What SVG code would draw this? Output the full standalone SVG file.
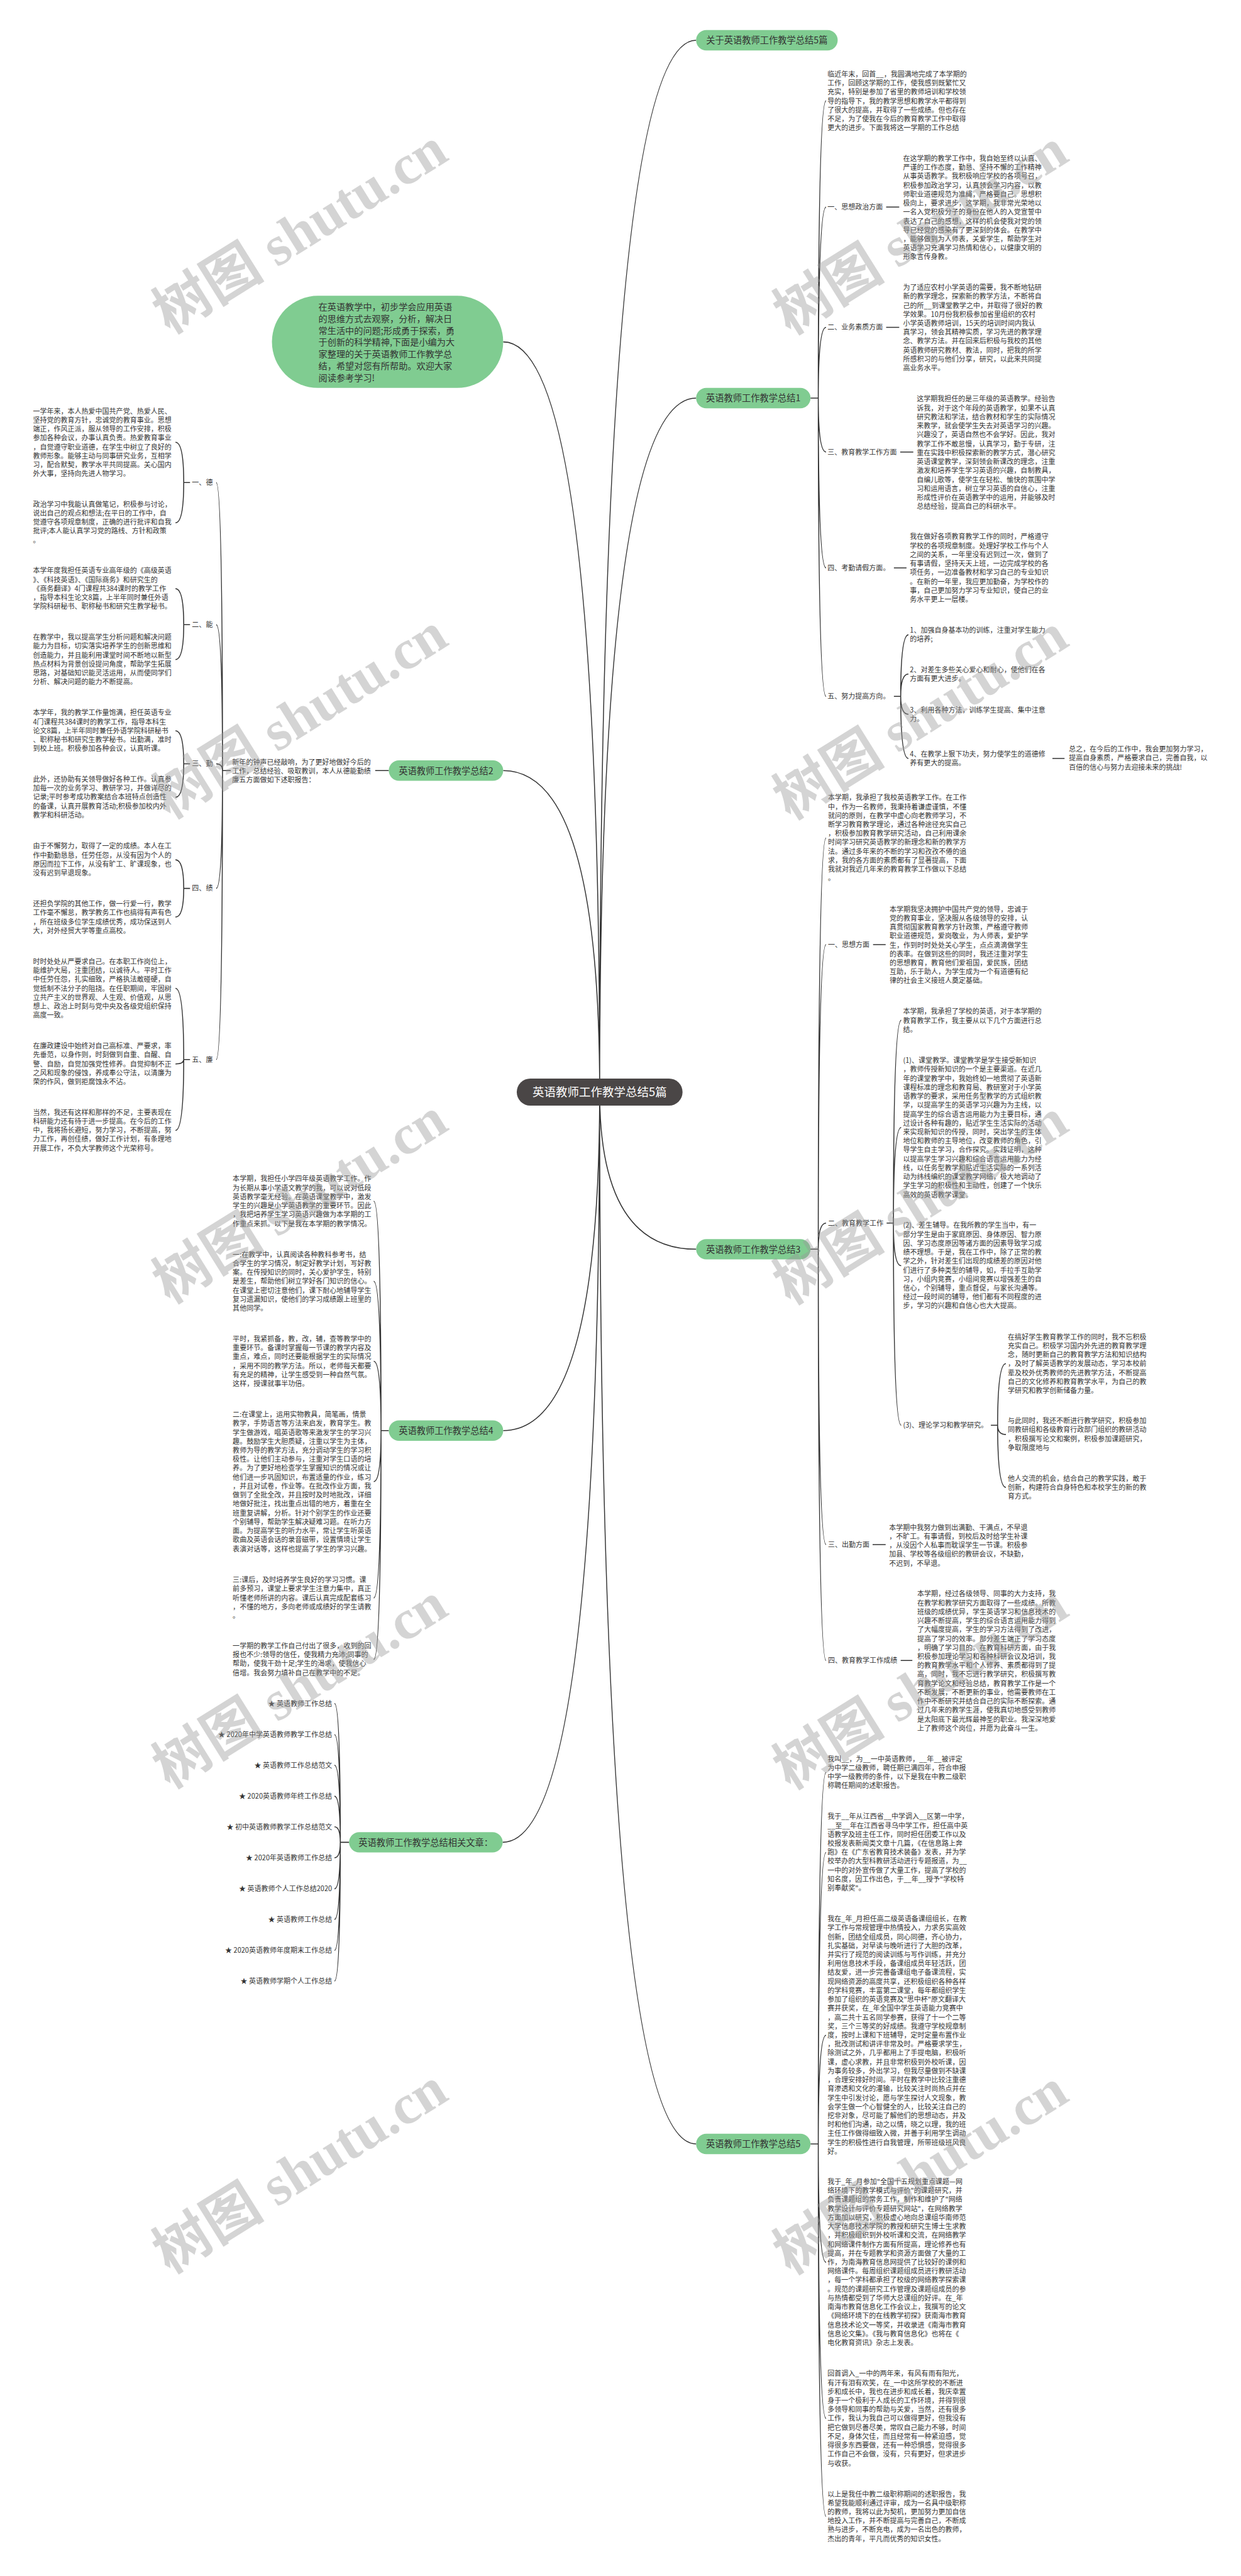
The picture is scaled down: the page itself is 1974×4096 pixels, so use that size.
<svg xmlns="http://www.w3.org/2000/svg" width="1974" height="4096" viewBox="0 0 1974 4096">
<style>
.t{font-family:"Noto Sans CJK SC","Noto Sans",sans-serif;font-size:14.3px;fill:#333}
.n{font-size:18.5px;text-anchor:middle}
.c{font-size:24px;fill:#fff;text-anchor:middle}
.e{text-anchor:end}
.g{fill:#80cc91}
.l{fill:none;stroke:#333;stroke-width:2}
.w{font-family:"Liberation Serif","Noto Sans CJK SC",serif;font-weight:bold;font-size:116px;fill:#9a9a9a;opacity:0.42}
</style>
<rect width="1974" height="4096" fill="#fff"/>
<g transform="scale(0.77109)">
<g id="connectors" class="l">
<path d="M1436,83Q1237,83 1237,2252M1436,821Q1237,821 1237,2252M1038,705Q1237,705 1237,2252M1038,1589Q1237,1589 1237,2252M1436,2576Q1237,2576 1237,2252M1038,2950Q1237,2950 1237,2252M1037,3799Q1237,3799 1237,2252M1436,4421Q1237,4421 1237,2252"/>
<path d="M1672,821H1688M1688,821Q1688,208 1704,208M1688,821Q1688,427 1704,427M1688,821Q1688,675 1704,675M1688,821Q1688,932 1704,932M1688,821Q1688,1171 1704,1171M1688,821Q1688,1436 1704,1436M1828,427H1855M1828,675H1855M1857,932H1884M1844,1171H1870M1844,1436H1858M1858,1436Q1858,1309 1874,1309M1858,1436Q1858,1390 1874,1390M1858,1436Q1858,1473 1874,1473M1858,1436Q1858,1564 1874,1564M2171,1564H2196"/>
<path d="M1671,2576H1688M1688,2576Q1688,1728 1704,1728M1688,2576Q1688,1948 1704,1948M1688,2576Q1688,2522 1704,2522M1688,2576Q1688,3185 1704,3185M1688,2576Q1688,3424 1704,3424M1801,1948H1827M1829,2522H1843M1843,2522Q1843,2104 1859,2104M1843,2522Q1843,2325 1859,2325M1843,2522Q1843,2610 1859,2610M1843,2522Q1843,2939 1859,2939M2044,2939H2058M2058,2939Q2058,2812 2075,2812M2058,2939Q2058,2958 2075,2958M2058,2939Q2058,3067 2075,3067M1800,3185H1827M1858,3424H1882"/>
<path d="M1672,4421H1688M1688,4421Q1688,3655 1704,3655M1688,4421Q1688,3820 1704,3820M1688,4421Q1688,4197 1704,4197M1688,4421Q1688,4665 1704,4665M1688,4421Q1688,4987 1704,4987M1688,4421Q1688,5189 1704,5189"/>
<path d="M802,1589H774M476,1589H459M459,1589Q459,995 446,995M459,1589Q459,1288 446,1288M459,1589Q459,1575 446,1575M459,1589Q459,1832 446,1832M459,1589Q459,2185 446,2185M392,995H379M379,995Q379,912 362,912M379,995Q379,1078 362,1078M392,1288H379M379,1288Q379,1214 362,1214M379,1288Q379,1360 362,1360M392,1575H379M379,1575Q379,1507 362,1507M379,1575Q379,1644 362,1644M392,1832H379M379,1832Q379,1773 362,1773M379,1832Q379,1891 362,1891M392,2185H379M379,2185Q379,2038 362,2038M379,2185Q379,2194 362,2194M379,2185Q379,2331 362,2331"/>
<path d="M802,2950H786M786,2950Q786,2477 771,2477M786,2950Q786,2642 771,2642M786,2950Q786,2807 771,2807M786,2950Q786,3055 771,3055M786,2950Q786,3295 771,3295M786,2950Q786,3422 771,3422"/>
<path d="M720,3799H702M702,3799Q702,3513 690,3513M702,3799Q702,3577 690,3577M702,3799Q702,3640 690,3640M702,3799Q702,3704 690,3704M702,3799Q702,3767 690,3767M702,3799Q702,3831 690,3831M702,3799Q702,3895 690,3895M702,3799Q702,3958 690,3958M702,3799Q702,4022 690,4022M702,3799Q702,4085 690,4085"/>
</g>
<g id="center"><rect x="1066" y="2224" width="342" height="56" rx="28" fill="#4a4646"/><text class="t c" x="1237" y="2261">英语教师工作教学总结5篇</text></g>
<g id="note"><rect class="g" x="561" y="610" width="477" height="190" rx="95"/>
<text class="t" style="font-size:18.4px" y="639"><tspan x="657">在英语教学中，初步学会应用英语</tspan><tspan x="657" dy="24.5">的思维方式去观察，分析，解决日</tspan><tspan x="657" dy="24.5">常生活中的问题;形成勇于探索，勇</tspan><tspan x="657" dy="24.5">于创新的科学精神,下面是小编为大</tspan><tspan x="657" dy="24.5">家整理的关于英语教师工作教学总</tspan><tspan x="657" dy="24.5">结，希望对您有所帮助。欢迎大家</tspan><tspan x="657" dy="24.5">阅读参考学习!</tspan></text></g>
<g id="n0"><rect class="g" x="1436" y="62" width="292" height="42" rx="21"/><text class="t n" x="1582" y="90">关于英语教师工作教学总结5篇</text></g>
<g id="n1"><rect class="g" x="1436" y="800" width="236" height="42" rx="21"/><text class="t n" x="1554" y="828">英语教师工作教学总结1</text>
<text class="t" y="158"><tspan x="1707">临近年末，回首__，我圆满地完成了本学期的</tspan><tspan x="1707" dy="18.45">工作，回顾这学期的工作，使我感到既繁忙又</tspan><tspan x="1707" dy="18.45">充实，特别是参加了省里的教师培训和学校领</tspan><tspan x="1707" dy="18.45">导的指导下，我的教学思想和教学水平都得到</tspan><tspan x="1707" dy="18.45">了很大的提高，并取得了一些成绩。但也存在</tspan><tspan x="1707" dy="18.45">不足，为了使我在今后的教育教学工作中取得</tspan><tspan x="1707" dy="18.45">更大的进步。下面我将这一学期的工作总结</tspan></text>
<text class="t" x="1707" y="432">一、思想政治方面</text>
<text class="t" y="332"><tspan x="1863">在这学期的教学工作中，我自始至终以认真、</tspan><tspan x="1863" dy="18.45">严谨的工作态度，勤恳、坚持不懈的工作精神</tspan><tspan x="1863" dy="18.45">从事英语教学。我积极响应学校的各项号召，</tspan><tspan x="1863" dy="18.45">积极参加政治学习，认真领会学习内容，以教</tspan><tspan x="1863" dy="18.45">师职业道德规范为准绳，严格要自己。思想积</tspan><tspan x="1863" dy="18.45">极向上，要求进步，这学期，我非常光荣地以</tspan><tspan x="1863" dy="18.45">一名入党积极分子的身份在他人的入党宣誓中</tspan><tspan x="1863" dy="18.45">表达了自己的感想，这样的机会使我对党的领</tspan><tspan x="1863" dy="18.45">导已经党的感染有了更深刻的体会。在教学中</tspan><tspan x="1863" dy="18.45">，能够做到为人师表，关爱学生，帮助学生对</tspan><tspan x="1863" dy="18.45">英语学习充满学习热情和信心，以健康文明的</tspan><tspan x="1863" dy="18.45">形象言传身教。</tspan></text>
<text class="t" x="1707" y="680">二、业务素质方面</text>
<text class="t" y="598"><tspan x="1863">为了适应农村小学英语的需要，我不断地钻研</tspan><tspan x="1863" dy="18.45">新的教学理念，探索新的教学方法，不断将自</tspan><tspan x="1863" dy="18.45">己的所__到课堂教学之中，并取得了很好的教</tspan><tspan x="1863" dy="18.45">学效果。10月份我积极参加省里组织的农村</tspan><tspan x="1863" dy="18.45">小学英语教师培训，15天的培训时间内我认</tspan><tspan x="1863" dy="18.45">真学习，领会其精神实质，学习先进的教学理</tspan><tspan x="1863" dy="18.45">念、教学方法。并在回来后积极与我校的其他</tspan><tspan x="1863" dy="18.45">英语教师研究教材、教法，同时，把我的所学</tspan><tspan x="1863" dy="18.45">所感积习的与他们分享，研究，以此来共同提</tspan><tspan x="1863" dy="18.45">高业务水平。</tspan></text>
<text class="t" x="1707" y="937">三、教育教学工作方面</text>
<text class="t" y="828"><tspan x="1891">这学期我担任的是三年级的英语教学。经验告</tspan><tspan x="1891" dy="18.45">诉我，对于这个年段的英语教学，如果不认真</tspan><tspan x="1891" dy="18.45">研究教法和学法，结合教材和学生的实际情况</tspan><tspan x="1891" dy="18.45">来教学，就会使学生失去对英语学习的兴趣。</tspan><tspan x="1891" dy="18.45">兴趣没了，英语自然也不会学好。因此，我对</tspan><tspan x="1891" dy="18.45">教学工作不敢怠慢，认真学习，勤于专研，注</tspan><tspan x="1891" dy="18.45">重在实践中积极探索新的教学方式，潜心研究</tspan><tspan x="1891" dy="18.45">英语课堂教学，深刻领会新课改的理念，注重</tspan><tspan x="1891" dy="18.45">激发和培养学生学习英语的兴趣，自制教具，</tspan><tspan x="1891" dy="18.45">自编儿歌等，使学生在轻松、愉快的氛围中学</tspan><tspan x="1891" dy="18.45">习和运用语言，树立学习英语的自信心，注重</tspan><tspan x="1891" dy="18.45">形成性评价在英语教学中的运用，并能够及时</tspan><tspan x="1891" dy="18.45">总结经验，提高自己的科研水平。</tspan></text>
<text class="t" x="1707" y="1176">四、考勤请假方面。</text>
<text class="t" y="1112"><tspan x="1877">我在做好各项教育教学工作的同时，严格遵守</tspan><tspan x="1877" dy="18.45">学校的各项规章制度。处理好学校工作与个人</tspan><tspan x="1877" dy="18.45">之间的关系，一年里没有迟到过一次，做到了</tspan><tspan x="1877" dy="18.45">有事请假，坚持天天上班，一边完成学校的各</tspan><tspan x="1877" dy="18.45">项任务，一边准备教材和学习自己的专业知识</tspan><tspan x="1877" dy="18.45">。在新的一年里，我应更加勤奋，为学校作的</tspan><tspan x="1877" dy="18.45">事，自己更加努力学习专业知识，使自己的业</tspan><tspan x="1877" dy="18.45">务水平更上一层楼。</tspan></text>
<text class="t" x="1707" y="1441">五、努力提高方向。</text>
<text class="t" y="1305"><tspan x="1877">1、加强自身基本功的训练，注重对学生能力</tspan><tspan x="1877" dy="18.45">的培养;</tspan></text>
<text class="t" y="1386"><tspan x="1877">2、对差生多些关心爱心和耐心，使他们在各</tspan><tspan x="1877" dy="18.45">方面有更大进步。</tspan></text>
<text class="t" y="1469"><tspan x="1877">3、利用各种方法，训练学生提高、集中注意</tspan><tspan x="1877" dy="18.45">力。</tspan></text>
<text class="t" y="1560"><tspan x="1877">4、在教学上狠下功夫，努力使学生的道德修</tspan><tspan x="1877" dy="18.45">养有更大的提高。</tspan></text>
<text class="t" y="1550"><tspan x="2205">总之，在今后的工作中，我会更加努力学习，</tspan><tspan x="2205" dy="18.45">提高自身素质，严格要求自己，完善自我，以</tspan><tspan x="2205" dy="18.45">百倍的信心与努力去迎接未来的挑战!</tspan></text>
</g>
<g id="n3"><rect class="g" x="1436" y="2555" width="236" height="42" rx="21"/><text class="t n" x="1554" y="2583">英语教师工作教学总结3</text>
<text class="t" y="1650"><tspan x="1708">本学期，我承担了我校英语教学工作。在工作</tspan><tspan x="1708" dy="18.45">中，作为一名教师，我秉持着谦虚谨慎，不懂</tspan><tspan x="1708" dy="18.45">就问的原则，在教学中虚心向老教师学习，不</tspan><tspan x="1708" dy="18.45">断学习教育教学理论，通过各种途径充实自己</tspan><tspan x="1708" dy="18.45">，积极参加教育教学研究活动，自己利用课余</tspan><tspan x="1708" dy="18.45">时间学习研究英语教学的新理念和新的教学方</tspan><tspan x="1708" dy="18.45">法。通过多年来的不断的学习和孜孜不倦的追</tspan><tspan x="1708" dy="18.45">求，我的各方面的素质都有了显著提高，下面</tspan><tspan x="1708" dy="18.45">我就对我近几年来的教育教学工作做以下总结</tspan><tspan x="1708" dy="18.45">。</tspan></text>
<text class="t" x="1708" y="1953">一、思想方面</text>
<text class="t" y="1880"><tspan x="1835">本学期我坚决拥护中国共产党的领导，忠诚于</tspan><tspan x="1835" dy="18.45">党的教育事业，坚决服从各级领导的安排，认</tspan><tspan x="1835" dy="18.45">真贯彻国家教育教学方针政策，严格遵守教师</tspan><tspan x="1835" dy="18.45">职业道德规范，爱岗敬业，为人师表，爱护学</tspan><tspan x="1835" dy="18.45">生，作到时时处处关心学生，点点滴滴做学生</tspan><tspan x="1835" dy="18.45">的表率。在做到这些的同时，我还注重对学生</tspan><tspan x="1835" dy="18.45">的思想教育，教育他们爱祖国，爱民族，团结</tspan><tspan x="1835" dy="18.45">互助，乐于助人，为学生成为一个有道德有纪</tspan><tspan x="1835" dy="18.45">律的社会主义接班人奠定基础。</tspan></text>
<text class="t" x="1708" y="2527">二、教育教学工作</text>
<text class="t" y="2091"><tspan x="1863">本学期，我承担了学校的英语，对于本学期的</tspan><tspan x="1863" dy="18.45">教育教学工作，我主要从以下几个方面进行总</tspan><tspan x="1863" dy="18.45">结。</tspan></text>
<text class="t" y="2192"><tspan x="1863">(1)、课堂教学。课堂教学是学生接受新知识</tspan><tspan x="1863" dy="18.45">，教师传授新知识的一个是主要渠道。在近几</tspan><tspan x="1863" dy="18.45">年的课堂教学中，我始终如一地贯彻了英语新</tspan><tspan x="1863" dy="18.45">课程标准的理念和教育局、教研室对于小学英</tspan><tspan x="1863" dy="18.45">语教学的要求，采用任务型教学的方式组织教</tspan><tspan x="1863" dy="18.45">学，以提高学生的英语学习兴趣为为主线，以</tspan><tspan x="1863" dy="18.45">提高学生的综合语言运用能力为主要目标，通</tspan><tspan x="1863" dy="18.45">过设计各种有趣的，贴近学生生活实际的活动</tspan><tspan x="1863" dy="18.45">来实现新知识的传授，同时，突出学生的主体</tspan><tspan x="1863" dy="18.45">地位和教师的主导地位，改变教师的角色，引</tspan><tspan x="1863" dy="18.45">导学生自主学习，合作探究。实践证明，这种</tspan><tspan x="1863" dy="18.45">以提高学生学习兴趣和综合语言运用能力为经</tspan><tspan x="1863" dy="18.45">线，以任务型教学和贴近生活实际的一系列活</tspan><tspan x="1863" dy="18.45">动为纬线编织的课堂教学网络，极大地调动了</tspan><tspan x="1863" dy="18.45">学生学习的积极性和主动性，创建了一个快乐</tspan><tspan x="1863" dy="18.45">高效的英语教学课堂。</tspan></text>
<text class="t" y="2532"><tspan x="1863">(2)、差生辅导。在我所教的学生当中，有一</tspan><tspan x="1863" dy="18.45">部分学生是由于家庭原因、身体原因、智力原</tspan><tspan x="1863" dy="18.45">因、学习态度原因等诸方面的因素导致学习成</tspan><tspan x="1863" dy="18.45">绩不理想。于是，我在工作中，除了正常的教</tspan><tspan x="1863" dy="18.45">学之外，针对差生们出现的成绩差的原因对他</tspan><tspan x="1863" dy="18.45">们进行了多种类型的辅导，如，手拉手互助学</tspan><tspan x="1863" dy="18.45">习，小组内竞赛，小组间竞赛以增强差生的自</tspan><tspan x="1863" dy="18.45">信心，个别辅导，重点督促，与家长沟通等。</tspan><tspan x="1863" dy="18.45">经过一段时间的辅导，他们都有不同程度的进</tspan><tspan x="1863" dy="18.45">步，学习的兴趣和自信心也大大提高。</tspan></text>
<text class="t" x="1863" y="2944">(3)、理论学习和教学研究。</text>
<text class="t" y="2762"><tspan x="2079">在搞好学生教育教学工作的同时，我不忘积极</tspan><tspan x="2079" dy="18.45">充实自己。积极学习国内外先进的教育教学理</tspan><tspan x="2079" dy="18.45">念，随时更新自己的教育教学方法和知识结构</tspan><tspan x="2079" dy="18.45">，及时了解英语教学的发展动态，学习本校前</tspan><tspan x="2079" dy="18.45">辈及校外优秀教师的先进教学方法，不断提高</tspan><tspan x="2079" dy="18.45">自己的文化修养和教育教学水平，为自己的教</tspan><tspan x="2079" dy="18.45">学研究和教学创新储备力量。</tspan></text>
<text class="t" y="2935"><tspan x="2079">与此同时，我还不断进行教学研究，积极参加</tspan><tspan x="2079" dy="18.45">同教研组和各级教育行政部门组织的教研活动</tspan><tspan x="2079" dy="18.45">，积极撰写论文和案例，积极参加课题研究，</tspan><tspan x="2079" dy="18.45">争取限度地与</tspan></text>
<text class="t" y="3054"><tspan x="2079">他人交流的机会，结合自己的教学实践，敢于</tspan><tspan x="2079" dy="18.45">创新，构建符合自身特色和本校学生的新的教</tspan><tspan x="2079" dy="18.45">育方式。</tspan></text>
<text class="t" x="1708" y="3190">三、出勤方面</text>
<text class="t" y="3155"><tspan x="1834">本学期中我努力做到出满勤、干满点，不早退</tspan><tspan x="1834" dy="18.45">，不旷工。有事请假，到校后及时给学生补课</tspan><tspan x="1834" dy="18.45">，从没因个人私事而耽误学生一节课。积极参</tspan><tspan x="1834" dy="18.45">加县、学校等各级组织的教研会议，不缺勤，</tspan><tspan x="1834" dy="18.45">不迟到，不早退。</tspan></text>
<text class="t" x="1708" y="3429">四、教育教学工作成绩</text>
<text class="t" y="3292"><tspan x="1892">本学期，经过各级领导、同事的大力支持，我</tspan><tspan x="1892" dy="18.45">在教学和教学研究方面取得了一些成绩。所教</tspan><tspan x="1892" dy="18.45">班级的成绩优异，学生英语学习和信息技术的</tspan><tspan x="1892" dy="18.45">兴趣不断提高，学生的综合语言运用能力得到</tspan><tspan x="1892" dy="18.45">了大幅度提高，学生的学习方法得到了改进，</tspan><tspan x="1892" dy="18.45">提高了学习的效率。部分差生端正了学习态度</tspan><tspan x="1892" dy="18.45">，明确了学习目的。在教育科研方面，由于我</tspan><tspan x="1892" dy="18.45">积极参加理论学习和各种科研会议及培训，我</tspan><tspan x="1892" dy="18.45">的教育教学水平和个人修养、素质都得到了提</tspan><tspan x="1892" dy="18.45">高，同时，我不忘进行教学研究，积极撰写教</tspan><tspan x="1892" dy="18.45">育教学论文和经验总结，教育教学工作是一个</tspan><tspan x="1892" dy="18.45">不断发展，不断更新的事业，他需要教师在工</tspan><tspan x="1892" dy="18.45">作中不断研究并结合自己的实际不断探索。通</tspan><tspan x="1892" dy="18.45">过几年来的教学生涯，使我真切地感受到教师</tspan><tspan x="1892" dy="18.45">是太阳底下最光辉最神圣的职业。我深深地爱</tspan><tspan x="1892" dy="18.45">上了教师这个岗位，并愿为此奋斗一生。</tspan></text>
</g>
<g id="n5"><rect class="g" x="1436" y="4400" width="236" height="42" rx="21"/><text class="t n" x="1554" y="4428">英语教师工作教学总结5</text>
<text class="t" y="3632"><tspan x="1707">我叫__，为__一中英语教师，__年__被评定</tspan><tspan x="1707" dy="18.45">为中学二级教师，聘任期已满四年，符合申报</tspan><tspan x="1707" dy="18.45">中学一级教师的条件，以下是我在中教二级职</tspan><tspan x="1707" dy="18.45">称聘任期间的述职报告。</tspan></text>
<text class="t" y="3751"><tspan x="1707">我于__年从江西省__中学调入__区第一中学，</tspan><tspan x="1707" dy="18.45">__至__年在江西省寻乌中学工作，担任高中英</tspan><tspan x="1707" dy="18.45">语教学及班主任工作，同时担任团委工作以及</tspan><tspan x="1707" dy="18.45">校报发表新闻类文章十几篇，《在信息路上奔</tspan><tspan x="1707" dy="18.45">跑》在《广东省教育技术装备》发表，并为学</tspan><tspan x="1707" dy="18.45">校举办的大型科教研活动进行专题报道，为__</tspan><tspan x="1707" dy="18.45">一中的对外宣传做了大量工作，提高了学校的</tspan><tspan x="1707" dy="18.45">知名度，因工作出色，于__年__授予"学校特</tspan><tspan x="1707" dy="18.45">别奉献奖"。</tspan></text>
<text class="t" y="3962"><tspan x="1707">我在_年_月担任高二级英语备课组组长，在教</tspan><tspan x="1707" dy="18.45">学工作与常规管理中热情投入，力求务实高效</tspan><tspan x="1707" dy="18.45">创新，团结全组成员，同心同德，齐心协力，</tspan><tspan x="1707" dy="18.45">扎实基础，对早读与晚听进行了大胆的改革，</tspan><tspan x="1707" dy="18.45">并实行了规范的阅读训练与写作训练，并充分</tspan><tspan x="1707" dy="18.45">利用信息技术手段，备课组成员年轻活跃，团</tspan><tspan x="1707" dy="18.45">结友爱，进一步完善备课组电子备课流程，实</tspan><tspan x="1707" dy="18.45">现网络资源的高度共享，还积极组织各种各样</tspan><tspan x="1707" dy="18.45">的学科竞赛，丰富第二课堂，每年都组织学生</tspan><tspan x="1707" dy="18.45">参加了组织的英语竞赛及"思中杯"原文翻译大</tspan><tspan x="1707" dy="18.45">赛并获奖，在_年全国中学生英语能力竞赛中</tspan><tspan x="1707" dy="18.45">，高二共十五名同学参赛，获得了十一个二等</tspan><tspan x="1707" dy="18.45">奖，三个三等奖的好成绩。我遵守学校规章制</tspan><tspan x="1707" dy="18.45">度，按时上课和下班辅导，定时定量布置作业</tspan><tspan x="1707" dy="18.45">，批改测试和讲评非常及时。严格要求学生，</tspan><tspan x="1707" dy="18.45">除测试之外，几乎都用上了手提电脑，积极听</tspan><tspan x="1707" dy="18.45">课，虚心求教，并且非常积极到外校听课，因</tspan><tspan x="1707" dy="18.45">为事务较多，外出学习，但我尽量做到不缺课</tspan><tspan x="1707" dy="18.45">，合理安排好时间。平时在教学中比较注重德</tspan><tspan x="1707" dy="18.45">育渗透和文化的灌输，比较关注时尚热点并在</tspan><tspan x="1707" dy="18.45">学生中引发讨论，愿与学生探讨人文现象，教</tspan><tspan x="1707" dy="18.45">会学生做一个心智健全的人，比较关注自己的</tspan><tspan x="1707" dy="18.45">挖非对象，尽可能了解他们的思想动态，并及</tspan><tspan x="1707" dy="18.45">时和他们沟通，动之以情，晓之以理，我的班</tspan><tspan x="1707" dy="18.45">主任工作做得细致入微，并善于利用学生调动</tspan><tspan x="1707" dy="18.45">学生的积极性进行自我管理，所带班级班风良</tspan><tspan x="1707" dy="18.45">好。</tspan></text>
<text class="t" y="4504"><tspan x="1707">我于_年_月参加"全国十五规划重点课题—网</tspan><tspan x="1707" dy="18.45">络环境下的教学模式与评价"的课题研究，并</tspan><tspan x="1707" dy="18.45">负责课题组的常务工作，制作和维护了"网络</tspan><tspan x="1707" dy="18.45">教学设计与评价专题研究网站"，在网络教学</tspan><tspan x="1707" dy="18.45">方面加以研究，积极虚心地向总课组华南师范</tspan><tspan x="1707" dy="18.45">大学信息技术学院的教授和研究生博士生求教</tspan><tspan x="1707" dy="18.45">，并积极组织到外校听课和交流，在网络教学</tspan><tspan x="1707" dy="18.45">和网络课件制作方面有所提高，理论修养也有</tspan><tspan x="1707" dy="18.45">提高，并在专题教学和资源方面做了大量的工</tspan><tspan x="1707" dy="18.45">作，为南海教育信息网提供了比较好的课例和</tspan><tspan x="1707" dy="18.45">网络课件。每周组织课题组成员进行教研活动</tspan><tspan x="1707" dy="18.45">，每一个学科都承担了校级的网络教学探索课</tspan><tspan x="1707" dy="18.45">。规范的课题研究工作管理及课题组成员的参</tspan><tspan x="1707" dy="18.45">与热情都受到了华师大总课组的好评。在_年</tspan><tspan x="1707" dy="18.45">南海市教育信息化工作会议上，我撰写的论文</tspan><tspan x="1707" dy="18.45">《网络环境下的在线教学初探》获南海市教育</tspan><tspan x="1707" dy="18.45">信息技术论文一等奖，并收录进《南海市教育</tspan><tspan x="1707" dy="18.45">信息论文集》。《我与教育信息化》也将在《</tspan><tspan x="1707" dy="18.45">电化教育资讯》杂志上发表。</tspan></text>
<text class="t" y="4900"><tspan x="1707">回首调入_一中的两年来，有风有雨有阳光，</tspan><tspan x="1707" dy="18.45">有汗有泪有欢笑，在_一中这所学校的不断进</tspan><tspan x="1707" dy="18.45">步和成长中，我也在进步和成长着，我庆幸置</tspan><tspan x="1707" dy="18.45">身于一个极利于人成长的工作环境，并得到很</tspan><tspan x="1707" dy="18.45">多领导和同事的帮助与关爱，当然，还有很多</tspan><tspan x="1707" dy="18.45">工作，我认为我自己可以做得更好，但我没有</tspan><tspan x="1707" dy="18.45">把它做到尽善尽美，常叹自己能力不够，时间</tspan><tspan x="1707" dy="18.45">不足，身体欠佳，而且经常有一种紧迫感，觉</tspan><tspan x="1707" dy="18.45">得很多东西要做，还有一种恐惧感，觉得很多</tspan><tspan x="1707" dy="18.45">工作自己不会做，没有，只有更好，但求进步</tspan><tspan x="1707" dy="18.45">与收获。</tspan></text>
<text class="t" y="5148"><tspan x="1707">以上是我任中教二级职称期间的述职报告，我</tspan><tspan x="1707" dy="18.45">希望我能顺利通过评审，成为一名具中级职称</tspan><tspan x="1707" dy="18.45">的教师，我将以此为契机，更加努力更加自信</tspan><tspan x="1707" dy="18.45">地投入工作，并不断提高与完善自己，不断成</tspan><tspan x="1707" dy="18.45">熟与进步，不断充电，成为一名出色的教师，</tspan><tspan x="1707" dy="18.45">杰出的青年，平凡而优秀的知识女性。</tspan></text>
</g>
<g id="n2"><rect class="g" x="802" y="1568" width="236" height="42" rx="21"/><text class="t n" x="920" y="1596">英语教师工作教学总结2</text>
<text class="t" y="1577"><tspan x="479">新年的钟声已经敲响，为了更好地做好今后的</tspan><tspan x="479" dy="18.45">工作，总结经验、吸取教训，本人从德能勤绩</tspan><tspan x="479" dy="18.45">廉五方面做如下述职报告：</tspan></text>
<text class="t" x="396" y="1000">一、德</text>
<text class="t" x="396" y="1293">二、能</text>
<text class="t" x="396" y="1580">三、勤</text>
<text class="t" x="396" y="1837">四、绩</text>
<text class="t" x="396" y="2190">五、廉</text>
<text class="t" y="853"><tspan x="68">一学年来，本人热爱中国共产党、热爱人民、</tspan><tspan x="68" dy="18.45">坚持党的教育方针，忠诚党的教育事业。思想</tspan><tspan x="68" dy="18.45">端正，作风正派，服从领导的工作安排，积极</tspan><tspan x="68" dy="18.45">参加各种会议，办事认真负责。热爱教育事业</tspan><tspan x="68" dy="18.45">，自觉遵守职业道德，在学生中树立了良好的</tspan><tspan x="68" dy="18.45">教师形象。能够主动与同事研究业务，互相学</tspan><tspan x="68" dy="18.45">习，配合默契，教学水平共同提高。关心国内</tspan><tspan x="68" dy="18.45">外大事，坚持向先进人物学习。</tspan></text>
<text class="t" y="1045"><tspan x="68">政治学习中我能认真做笔记，积极参与讨论，</tspan><tspan x="68" dy="18.45">说出自己的观点和想法;在平日的工作中，自</tspan><tspan x="68" dy="18.45">觉遵守各项规章制度，正确的进行批评和自我</tspan><tspan x="68" dy="18.45">批评;本人能认真学习党的路线、方针和政策</tspan><tspan x="68" dy="18.45">。</tspan></text>
<text class="t" y="1182"><tspan x="68">本学年度我担任英语专业高年级的《高级英语</tspan><tspan x="68" dy="18.45">》、《科技英语》、《国际商务》和研究生的</tspan><tspan x="68" dy="18.45">《商务翻译》4门课程共384课时的教学工作</tspan><tspan x="68" dy="18.45">，指导本科生论文8篇，上半年同时兼任外语</tspan><tspan x="68" dy="18.45">学院科研秘书、职称秘书和研究生教学秘书。</tspan></text>
<text class="t" y="1319"><tspan x="68">在教学中，我以提高学生分析问题和解决问题</tspan><tspan x="68" dy="18.45">能力为目标，切实落实培养学生的创新思维和</tspan><tspan x="68" dy="18.45">创造能力，并且能利用课堂时间不断地以新型</tspan><tspan x="68" dy="18.45">热点材料为背景创设提问角度，帮助学生拓展</tspan><tspan x="68" dy="18.45">思路，对基础知识能灵活运用，从而使同学们</tspan><tspan x="68" dy="18.45">分析、解决问题的能力不断提高。</tspan></text>
<text class="t" y="1475"><tspan x="68">本学年，我的教学工作量饱满，担任英语专业</tspan><tspan x="68" dy="18.45">4门课程共384课时的教学工作，指导本科生</tspan><tspan x="68" dy="18.45">论文8篇，上半年同时兼任外语学院科研秘书</tspan><tspan x="68" dy="18.45">、职称秘书和研究生教学秘书。出勤满，准时</tspan><tspan x="68" dy="18.45">到校上班。积极参加各种会议，认真听课。</tspan></text>
<text class="t" y="1612"><tspan x="68">此外，还协助有关领导做好各种工作。认真参</tspan><tspan x="68" dy="18.45">加每一次的业务学习、教研学习，并做详尽的</tspan><tspan x="68" dy="18.45">记录;平时参考成功教案结合本班特点创造性</tspan><tspan x="68" dy="18.45">的备课，认真开展教育活动;积极参加校内外</tspan><tspan x="68" dy="18.45">教学和科研活动。</tspan></text>
<text class="t" y="1750"><tspan x="68">由于不懈努力，取得了一定的成绩。本人在工</tspan><tspan x="68" dy="18.45">作中勤勤恳恳，任劳任怨，从没有因为个人的</tspan><tspan x="68" dy="18.45">原因而拉下工作，从没有旷工、旷课现象，也</tspan><tspan x="68" dy="18.45">没有迟到早退现象。</tspan></text>
<text class="t" y="1869"><tspan x="68">还担负学院的其他工作，做一行爱一行，教学</tspan><tspan x="68" dy="18.45">工作毫不懈怠，教学教务工作也搞得有声有色</tspan><tspan x="68" dy="18.45">，所在班级多位学生成绩优秀，成功保送到人</tspan><tspan x="68" dy="18.45">大，对外经贸大学等重点高校。</tspan></text>
<text class="t" y="1988"><tspan x="68">时时处处从严要求自己。在本职工作岗位上，</tspan><tspan x="68" dy="18.45">能维护大局，注重团结，以诚待人。平时工作</tspan><tspan x="68" dy="18.45">中任劳任怨，扎实细致，严格执法敢碰硬，自</tspan><tspan x="68" dy="18.45">觉抵制不法分子的阻挠。在任职期间，牢固树</tspan><tspan x="68" dy="18.45">立共产主义的世界观、人生观、价值观，从思</tspan><tspan x="68" dy="18.45">想上、政治上时刻与党中央及各级党组织保持</tspan><tspan x="68" dy="18.45">高度一致。</tspan></text>
<text class="t" y="2162"><tspan x="68">在廉政建设中始终对自己高标准、严要求，率</tspan><tspan x="68" dy="18.45">先垂范，以身作则，时刻做到自重、自醒、自</tspan><tspan x="68" dy="18.45">警、自励，自觉加强党性修养。自觉抑制不正</tspan><tspan x="68" dy="18.45">之风和现象的侵蚀，养成奉公守法，以清廉为</tspan><tspan x="68" dy="18.45">荣的作风，做到拒腐蚀永不沾。</tspan></text>
<text class="t" y="2299"><tspan x="68">当然，我还有这样和那样的不足，主要表现在</tspan><tspan x="68" dy="18.45">科研能力还有待于进一步提高。在今后的工作</tspan><tspan x="68" dy="18.45">中，我将扬长避短，努力学习，不断提高，努</tspan><tspan x="68" dy="18.45">力工作，再创佳绩，做好工作计划，有条理地</tspan><tspan x="68" dy="18.45">开展工作，不负大学教师这个光荣称号。</tspan></text>
</g>
<g id="n4"><rect class="g" x="802" y="2929" width="236" height="42" rx="21"/><text class="t n" x="920" y="2957">英语教师工作教学总结4</text>
<text class="t" y="2436"><tspan x="480">本学期，我担任小学四年级英语教学工作。作</tspan><tspan x="480" dy="18.45">为长期从事小学语文教学的我，可以说对低段</tspan><tspan x="480" dy="18.45">英语教学毫无经验。在英语课堂教学中，激发</tspan><tspan x="480" dy="18.45">学生的兴趣是小学英语教学的重要环节。因此</tspan><tspan x="480" dy="18.45">，我把培养学生学习英语兴趣做为本学期的工</tspan><tspan x="480" dy="18.45">作重点来抓。以下是我在本学期的教学情况。</tspan></text>
<text class="t" y="2592"><tspan x="480">一:在教学中，认真阅读各种教科参考书，结</tspan><tspan x="480" dy="18.45">合学生的学习情况，制定好教学计划，写好教</tspan><tspan x="480" dy="18.45">案。在传授知识的同时，关心爱护学生，特别</tspan><tspan x="480" dy="18.45">是差生，帮助他们树立学好各门知识的信心。</tspan><tspan x="480" dy="18.45">在课堂上密切注意他们，课下耐心地辅导学生</tspan><tspan x="480" dy="18.45">复习遗漏知识，使他们的学习成绩跟上班里的</tspan><tspan x="480" dy="18.45">其他同学。</tspan></text>
<text class="t" y="2766"><tspan x="480">平时，我紧抓备，教，改，辅，查等教学中的</tspan><tspan x="480" dy="18.45">重要环节。备课时掌握每一节课的教学内容及</tspan><tspan x="480" dy="18.45">重点，难点，同时还要能根据学生的实际情况</tspan><tspan x="480" dy="18.45">，采用不同的教学方法。所以，老师每天都要</tspan><tspan x="480" dy="18.45">有充足的精神，让学生感受到一种自然气氛。</tspan><tspan x="480" dy="18.45">这样，授课就事半功倍。</tspan></text>
<text class="t" y="2922"><tspan x="480">二:在课堂上，运用实物教具，简笔画，情景</tspan><tspan x="480" dy="18.45">教学，手势语言等方法来启发，教育学生。教</tspan><tspan x="480" dy="18.45">学生做游戏，唱英语歌等来激发学生的学习兴</tspan><tspan x="480" dy="18.45">趣。鼓励学生大胆质疑，注重以学生为主体，</tspan><tspan x="480" dy="18.45">教师为导的教学方法，充分调动学生的学习积</tspan><tspan x="480" dy="18.45">极性。让他们主动参与，注重对学生口语的培</tspan><tspan x="480" dy="18.45">养。为了更好地检查学生掌握知识的情况或让</tspan><tspan x="480" dy="18.45">他们进一步巩固知识，布置适量的作业，练习</tspan><tspan x="480" dy="18.45">，并且对试卷，作业等。在批改作业方面，我</tspan><tspan x="480" dy="18.45">做到了全批全改，并且按时及时地批改，详细</tspan><tspan x="480" dy="18.45">地做好批注，找出重点出错的地方，着重在全</tspan><tspan x="480" dy="18.45">班重复讲解，分析。针对个别学生的作业还要</tspan><tspan x="480" dy="18.45">个别辅导，帮助学生解决疑难习题。在听力方</tspan><tspan x="480" dy="18.45">面。为提高学生的听力水平，常让学生听英语</tspan><tspan x="480" dy="18.45">歌曲及英语会话的录音磁带，设置情境让学生</tspan><tspan x="480" dy="18.45">表演对话等，这样也提高了学生的学习兴趣。</tspan></text>
<text class="t" y="3263"><tspan x="480">三:课后，及时培养学生良好的学习习惯。课</tspan><tspan x="480" dy="18.45">前多预习，课堂上要求学生注意力集中，真正</tspan><tspan x="480" dy="18.45">听懂老师所讲的内容。课后认真完成配套练习</tspan><tspan x="480" dy="18.45">，不懂的地方，多向老师或成绩好的学生请教</tspan><tspan x="480" dy="18.45">。</tspan></text>
<text class="t" y="3399"><tspan x="480">一学期的教学工作自己付出了很多，收到的回</tspan><tspan x="480" dy="18.45">报也不少:领导的信任，使我精力充沛;同事的</tspan><tspan x="480" dy="18.45">帮助，使我干劲十足;学生的渴求，使我信心</tspan><tspan x="480" dy="18.45">倍增。我会努力填补自己在教学中的不足。</tspan></text>
</g>
<g id="n6"><rect class="g" x="720" y="3778" width="317" height="42" rx="21"/><text class="t n" x="878" y="3806">英语教师工作教学总结相关文章：</text>
<text class="t e" x="685" y="3518">★ 英语教师工作总结</text>
<text class="t e" x="685" y="3582">★ 2020年中学英语教师教学工作总结</text>
<text class="t e" x="685" y="3645">★ 英语教师工作总结范文</text>
<text class="t e" x="685" y="3709">★ 2020英语教师年终工作总结</text>
<text class="t e" x="685" y="3772">★ 初中英语教师教学工作总结范文</text>
<text class="t e" x="685" y="3836">★ 2020年英语教师工作总结</text>
<text class="t e" x="685" y="3900">★ 英语教师个人工作总结2020</text>
<text class="t e" x="685" y="3963">★ 英语教师工作总结</text>
<text class="t e" x="685" y="4027">★ 2020英语教师年度期末工作总结</text>
<text class="t e" x="685" y="4090">★ 英语教师学期个人工作总结</text>
</g>
<g id="watermarks">
<text class="w" x="350" y="690" transform="rotate(-32 350 690)">树图 shutu.cn</text>
<text class="w" x="350" y="1690" transform="rotate(-32 350 1690)">树图 shutu.cn</text>
<text class="w" x="350" y="2690" transform="rotate(-32 350 2690)">树图 shutu.cn</text>
<text class="w" x="350" y="3690" transform="rotate(-32 350 3690)">树图 shutu.cn</text>
<text class="w" x="350" y="4690" transform="rotate(-32 350 4690)">树图 shutu.cn</text>
<text class="w" x="1630" y="692" transform="rotate(-32 1630 692)">树图 shutu.cn</text>
<text class="w" x="1630" y="1692" transform="rotate(-32 1630 1692)">树图 shutu.cn</text>
<text class="w" x="1630" y="2692" transform="rotate(-32 1630 2692)">树图 shutu.cn</text>
<text class="w" x="1630" y="3692" transform="rotate(-32 1630 3692)">树图 shutu.cn</text>
<text class="w" x="1630" y="4692" transform="rotate(-32 1630 4692)">树图 shutu.cn</text>
</g>
</g>
</svg>
